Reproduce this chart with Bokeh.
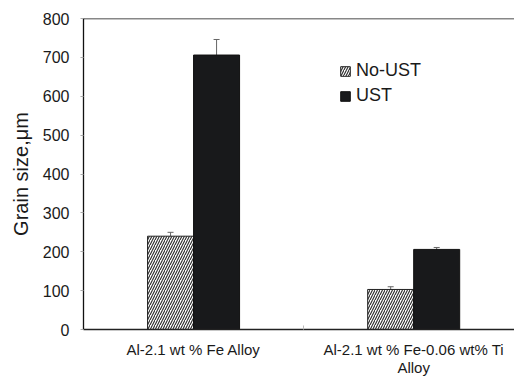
from bokeh.plotting import figure
from bokeh.models import (ColumnDataSource, Range1d, LinearAxis, FixedTicker, Whisker,
                          Legend, LegendItem, Span)
from bokeh.embed import file_html
from bokeh.resources import INLINE

# ---- data ----
categories = ["Al-2.1 wt % Fe Alloy", "Al-2.1 wt % Fe-0.06 wt% Ti\nAlloy"]
no_ust = [240, 103]
no_ust_err = [10, 7]
ust = [706, 206]
ust_err = [40, 5]
y_ticks = [0, 100, 200, 300, 400, 500, 600, 700, 800]

FONT = "Liberation Sans"
BAR_W = 0.209
centers = [i + 0.5 for i in range(len(categories))]
bounds = [float(i) for i in range(len(categories) + 1)]

src_a = ColumnDataSource(dict(
    x=[c - BAR_W / 2 for c in centers], top=no_ust,
    lo=[v - e for v, e in zip(no_ust, no_ust_err)],
    hi=[v + e for v, e in zip(no_ust, no_ust_err)]))
src_b = ColumnDataSource(dict(
    x=[c + BAR_W / 2 for c in centers], top=ust,
    lo=[v - e for v, e in zip(ust, ust_err)],
    hi=[v + e for v, e in zip(ust, ust_err)]))

p = figure(width=514, height=379, output_backend="svg", toolbar_location=None,
           x_range=Range1d(0, 1.958), y_range=Range1d(0, 800),
           min_border_left=83, min_border_right=0, min_border_top=18, min_border_bottom=50,
           x_axis_type=None, y_axis_type=None)
p.outline_line_color = None
p.background_fill_color = "white"
p.border_fill_color = "white"
p.xgrid.visible = False
p.ygrid.visible = False

# axes
yax = LinearAxis(ticker=FixedTicker(ticks=y_ticks))
yax.axis_label = "Grain size,\u03bcm"
yax.axis_label_text_font = FONT
yax.axis_label_text_font_size = "20px"
yax.axis_label_text_font_style = "normal"
yax.axis_label_text_color = "#1a1a1a"
yax.axis_label_standoff = 8
yax.major_label_text_font = FONT
yax.major_label_text_font_size = "16px"
yax.major_label_text_color = "#1a1a1a"
yax.major_label_standoff = 11
yax.major_tick_out = 3
yax.major_tick_in = 0
yax.major_tick_line_color = "#aaaaaa"
yax.minor_tick_line_color = None
yax.axis_line_color = "#111111"
yax.axis_line_width = 1.3
p.add_layout(yax, "left")

xax = LinearAxis(ticker=FixedTicker(ticks=centers, minor_ticks=bounds))
xax.major_label_overrides = {c: name for c, name in zip(centers, categories)}
xax.major_label_text_font = FONT
xax.major_label_text_font_size = "15px"
xax.major_label_text_color = "#1a1a1a"
xax.major_label_text_line_height = 1.1
xax.major_label_standoff = 11
xax.major_tick_in = 0
xax.major_tick_out = 0
xax.minor_tick_in = 4
xax.minor_tick_out = 0
xax.minor_tick_line_color = "#bbbbbb"
xax.axis_line_color = "#222222"
xax.axis_line_width = 1.3
p.add_layout(xax, "below")

p.add_layout(Span(location=800, dimension="width", line_color="#111111", line_width=1.5))

# bars
r_a = p.vbar(x="x", top="top", bottom=0, width=BAR_W, source=src_a,
             fill_color="white", line_color="#222222", line_width=1,
             hatch_pattern="right_diagonal_line", hatch_color="#2a2a2a",
             hatch_scale=5, hatch_weight=1.1)
r_b = p.vbar(x="x", top="top", bottom=0, width=BAR_W, source=src_b,
             fill_color="#18191b", line_color="#111111", line_width=1)

# error bars
w_b = Whisker(base="x", lower="lo", upper="hi", source=src_b, level="underlay",
              line_color="#666666", line_width=1)
w_b.upper_head.size = 6
w_b.upper_head.line_color = "#666666"
w_b.lower_head.line_color = None
p.add_layout(w_b)
w_a = Whisker(base="x", lower="lo", upper="hi", source=src_a,
              line_color="#666666", line_width=1)
w_a.upper_head.size = 6
w_a.lower_head.size = 6
w_a.upper_head.line_color = "#666666"
w_a.lower_head.line_color = "#666666"
p.add_layout(w_a)

legend = Legend(items=[LegendItem(label="No-UST", renderers=[r_a]),
                       LegendItem(label="UST", renderers=[r_b])],
                location=(256, 223))
legend.label_text_font = FONT
legend.label_text_font_size = "18px"
legend.label_text_color = "#1a1a1a"
legend.glyph_width = 12
legend.glyph_height = 12
legend.label_height = 21
legend.label_standoff = 5
legend.spacing = 4
legend.padding = 0
legend.margin = 0
legend.border_line_color = None
legend.background_fill_alpha = 0
p.add_layout(legend, "center")

open("out.html", "w").write(file_html(p, INLINE))
